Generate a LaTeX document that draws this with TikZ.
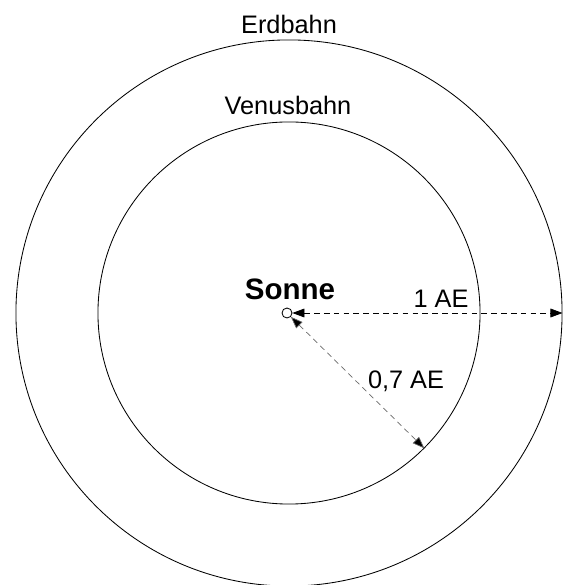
\documentclass[tikz,border=0pt]{standalone}
\usepackage{fontspec}
\setmainfont{Liberation Sans}
\usepackage{xcolor}
\usetikzlibrary{arrows.meta,positioning}
\definecolor{ink}     {HTML}{000000}
\definecolor{inkgray} {HTML}{6A6A6A}
\tikzset{
  orbit/.style    ={draw=ink, circle, line width=0.6pt, inner sep=0pt},
  sunbox/.style   ={draw=ink, circle, line width=0.6pt, inner sep=0pt,
                    minimum size=0.25cm},
  lbl/.style      ={font=\fontsize{18}{20}\selectfont, inner sep=0pt},
  sunlbl/.style   ={font=\fontsize{21}{23}\selectfont\bfseries, inner sep=0pt},
  distarr/.style  ={{Triangle[length=3mm,width=2.2mm]}-{Triangle[length=3mm,width=2.2mm]},
                    line width=0.5pt, dash pattern=on 4pt off 3pt},
  grayarr/.style  ={distarr, draw=inkgray, {Triangle[length=3mm,width=2.2mm,fill=ink]}-{Triangle[length=3mm,width=2.2mm,fill=ink]}},
}
\begin{document}
\begin{tikzpicture}[x=0.025cm,y=0.025cm]
    \useasboundingbox (0,0) rectangle (565,585);
    \node[orbit, minimum size=13.65cm] (erdbahn)   at (289,272) {};
    \node[orbit, minimum size=9.55cm]  (venusbahn) at (289,272) {};
    \node[sunbox] (sonne) at (287,272) {};

    \node[lbl] (erdlbl)   at (289,561) {Erdbahn};
    \node[lbl] (venuslbl) at (288,480) {Venusbahn};
    \node[sunlbl] (sonnelbl) at (290,296) {Sonne};
    \node[lbl] (ae1)  at (441,286) {1 AE};
    \node[lbl] (ae07) at (406,204) {0,7 AE};

    \draw[distarr] (sonne.east) -- (erdbahn.east);
    \draw[grayarr] (sonne.-45) -- (venusbahn.-45);
  \end{tikzpicture}
\end{document}
